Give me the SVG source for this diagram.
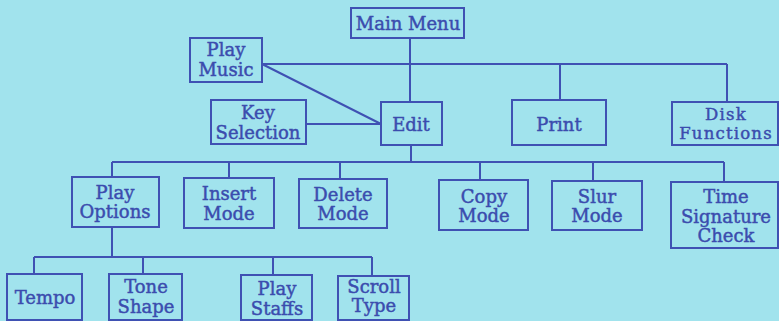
<svg xmlns="http://www.w3.org/2000/svg" width="779" height="321" viewBox="0 0 779 321">
<style>
.box{fill:none;stroke:#3f51b3;stroke-width:2}
.ln{fill:none;stroke:#3f51b3;stroke-width:2}
text{font-family:"DejaVu Serif","Liberation Serif",serif;font-size:18px;fill:#3b4cae;stroke:#3b4cae;stroke-width:0.45;text-anchor:middle}
.sm{font-size:16.5px;letter-spacing:1.2px}
</style>
<rect x="0" y="0" width="779" height="321" fill="#a1e3ed"/>
<g id="connectors">
<path class="ln" d="M410 38V102M262 64H727M560 64V100M727 64V102M262 64L381 124M306 124H381"/>
<path class="ln" d="M411 145V162M112 162H724M112 162V177M229 162V178M340 162V179M480 162V180M593 162V181M724 162V182"/>
<path class="ln" d="M112 227V257M34 257H372M34 257V274M143 257V274M273 257V275M372 257V276"/>
</g>
<g id="main-menu"><rect class="box" x="351" y="8" width="113" height="30"/><text x="408" y="30">Main Menu</text></g>
<g id="play-music"><rect class="box" x="190" y="38" width="72" height="44"/><text x="226" y="56">Play</text><text x="226" y="76">Music</text></g>
<g id="key-selection"><rect class="box" x="211" y="100" width="95" height="44"/><text x="258" y="119">Key</text><text x="258" y="139">Selection</text></g>
<g id="edit"><rect class="box" x="381" y="102" width="61" height="43"/><text x="411" y="131">Edit</text></g>
<g id="print"><rect class="box" x="512" y="100" width="94" height="45"/><text x="559" y="131">Print</text></g>
<g id="disk-functions"><rect class="box" x="672" y="102" width="106" height="43"/><text class="sm" x="726" y="120">Disk</text><text class="sm" x="726" y="139">Functions</text></g>
<g id="play-options"><rect class="box" x="72" y="177" width="87" height="50"/><text x="115" y="199">Play</text><text x="115" y="218">Options</text></g>
<g id="insert-mode"><rect class="box" x="184" y="178" width="90" height="50"/><text x="229" y="200">Insert</text><text x="229" y="220">Mode</text></g>
<g id="delete-mode"><rect class="box" x="299" y="179" width="88" height="49"/><text x="343" y="201">Delete</text><text x="343" y="220">Mode</text></g>
<g id="copy-mode"><rect class="box" x="439" y="180" width="89" height="50"/><text x="484" y="203">Copy</text><text x="484" y="222">Mode</text></g>
<g id="slur-mode"><rect class="box" x="552" y="181" width="90" height="49"/><text x="597" y="203">Slur</text><text x="597" y="222">Mode</text></g>
<g id="time-signature-check"><rect class="box" x="671" y="182" width="107" height="66"/><text x="726" y="203">Time</text><text x="726" y="223">Signature</text><text x="726" y="242">Check</text></g>
<g id="tempo"><rect class="box" x="7" y="274" width="75" height="46"/><text x="45" y="304">Tempo</text></g>
<g id="tone-shape"><rect class="box" x="109" y="274" width="73" height="46"/><text x="146" y="293">Tone</text><text x="146" y="313">Shape</text></g>
<g id="play-staffs"><rect class="box" x="241" y="275" width="71" height="45"/><text x="277" y="295">Play</text><text x="277" y="315">Staffs</text></g>
<g id="scroll-type"><rect class="box" x="338" y="276" width="71" height="44"/><text x="374" y="293">Scroll</text><text x="374" y="312">Type</text></g>
</svg>
